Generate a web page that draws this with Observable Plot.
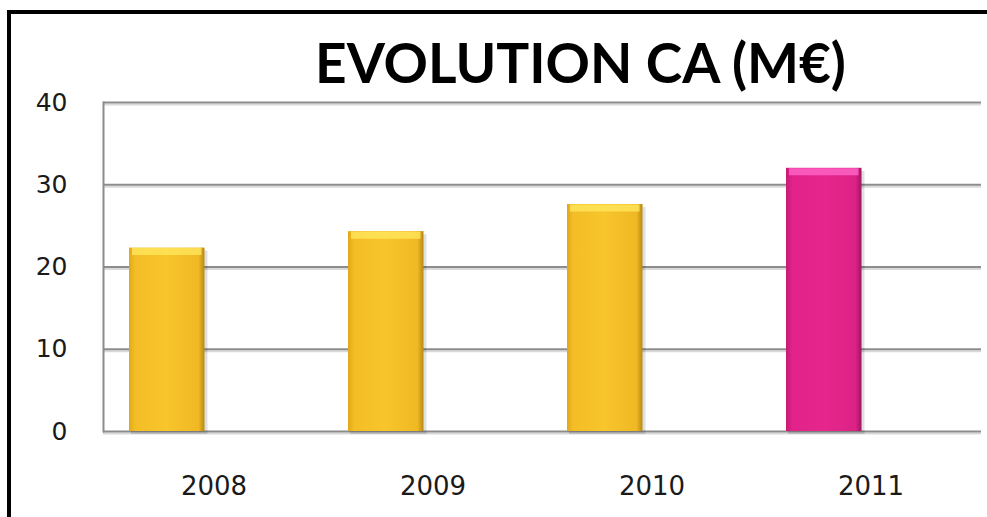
<!DOCTYPE html>
<html>
<head>
<meta charset="utf-8">
<script src="https://cdn.jsdelivr.net/npm/d3@7"></script>
<script src="https://cdn.jsdelivr.net/npm/@observablehq/plot@0.6"></script>
<style>
  html, body { margin: 0; padding: 0; background: #fff; }
  #wrap { position: relative; width: 987px; height: 517px; overflow: hidden; }
  #frame { position: absolute; left: 7px; top: 10px; width: 1200px; height: 800px;
           border-left: 4px solid #000; border-top: 4px solid #000; box-sizing: border-box; }
  #title { position: absolute; left: 0; top: 27px; width: 987px; padding-left: 174px; box-sizing: border-box;
           text-align: center; font-family: Lato, "Open Sans", sans-serif; font-weight: 700;
           font-size: 55px; line-height: 70px; color: #000; white-space: nowrap; }
  #chart { position: absolute; left: 0; top: 0; }
</style>
</head>
<body>
<div id="wrap">
  <div id="frame"></div>
  <div id="chart"></div>
  <div id="title">EVOLUTION CA (M€)</div>
</div>
<script>
const years = ["2008", "2009", "2010", "2011"];
const values = [22.3, 24.3, 27.6, 32.0];
const fills = ["url(#gold)", "url(#gold)", "url(#gold)", "url(#pink)"];
const tops = ["#ffe65c", "#ffe65c", "#ffe65c", "#ff66c8"];
const yTicks = [0, 10, 20, 30, 40];

const data = years.map((y, i) => ({year: y, value: values[i], fill: fills[i], top: tops[i]}));

const inL = 25, inR = 118.5;

const chart = Plot.plot({
  width: 987,
  height: 517,
  marginLeft: 103,
  marginRight: 6,
  marginTop: 102,
  marginBottom: 86,
  style: {fontFamily: "DejaVu Sans, Verdana, sans-serif", background: "transparent", overflow: "visible"},
  x: {domain: years, padding: 0, label: null},
  y: {domain: [0, 40], ticks: yTicks, label: null},
  marks: [
    Plot.ruleY(yTicks, {stroke: "#d9d9d9", strokeWidth: 2, dy: 2}),
    Plot.ruleY(yTicks, {stroke: "#8c8c8c", strokeWidth: 2}),
    Plot.frame({anchor: "left", stroke: "#8c8c8c", strokeWidth: 2}),
    Plot.barY(data, {x: "year", y: "value", fill: "#000", fillOpacity: 0.12, insetLeft: inL + 2, insetRight: inR - 3, dy: 3}),
    Plot.barY(data, {x: "year", y: "value", fill: "fill", insetLeft: inL, insetRight: inR}),
    Plot.tickY(data, {x: "year", y: "value", stroke: "top", strokeWidth: 7, dy: 3.5, insetLeft: inL + 3, insetRight: inR + 3, strokeOpacity: 0.8}),
    Plot.axisY({ticks: yTicks, tickSize: 0, tickPadding: 36, fontSize: 25, fill: "#1a1a1a"}),
    Plot.axisX({tickSize: 0, tickPadding: 45, fontSize: 26, fill: "#1a1a1a"})
  ]
});

const ns = "http://www.w3.org/2000/svg";
const defs = document.createElementNS(ns, "defs");
defs.innerHTML = `
  <linearGradient id="gold" x1="0" x2="1" y1="0" y2="0">
    <stop offset="0" stop-color="#e0a818"/>
    <stop offset="0.08" stop-color="#f3bd26"/>
    <stop offset="0.5" stop-color="#f7c52c"/>
    <stop offset="0.92" stop-color="#f0b824"/>
    <stop offset="1" stop-color="#b88a14"/>
  </linearGradient>
  <linearGradient id="pink" x1="0" x2="1" y1="0" y2="0">
    <stop offset="0" stop-color="#c81a74"/>
    <stop offset="0.08" stop-color="#e0228a"/>
    <stop offset="0.5" stop-color="#e6268c"/>
    <stop offset="0.92" stop-color="#dc2286"/>
    <stop offset="1" stop-color="#a01460"/>
  </linearGradient>`;
chart.insertBefore(defs, chart.firstChild);
document.getElementById("chart").appendChild(chart);
</script>
</body>
</html>
